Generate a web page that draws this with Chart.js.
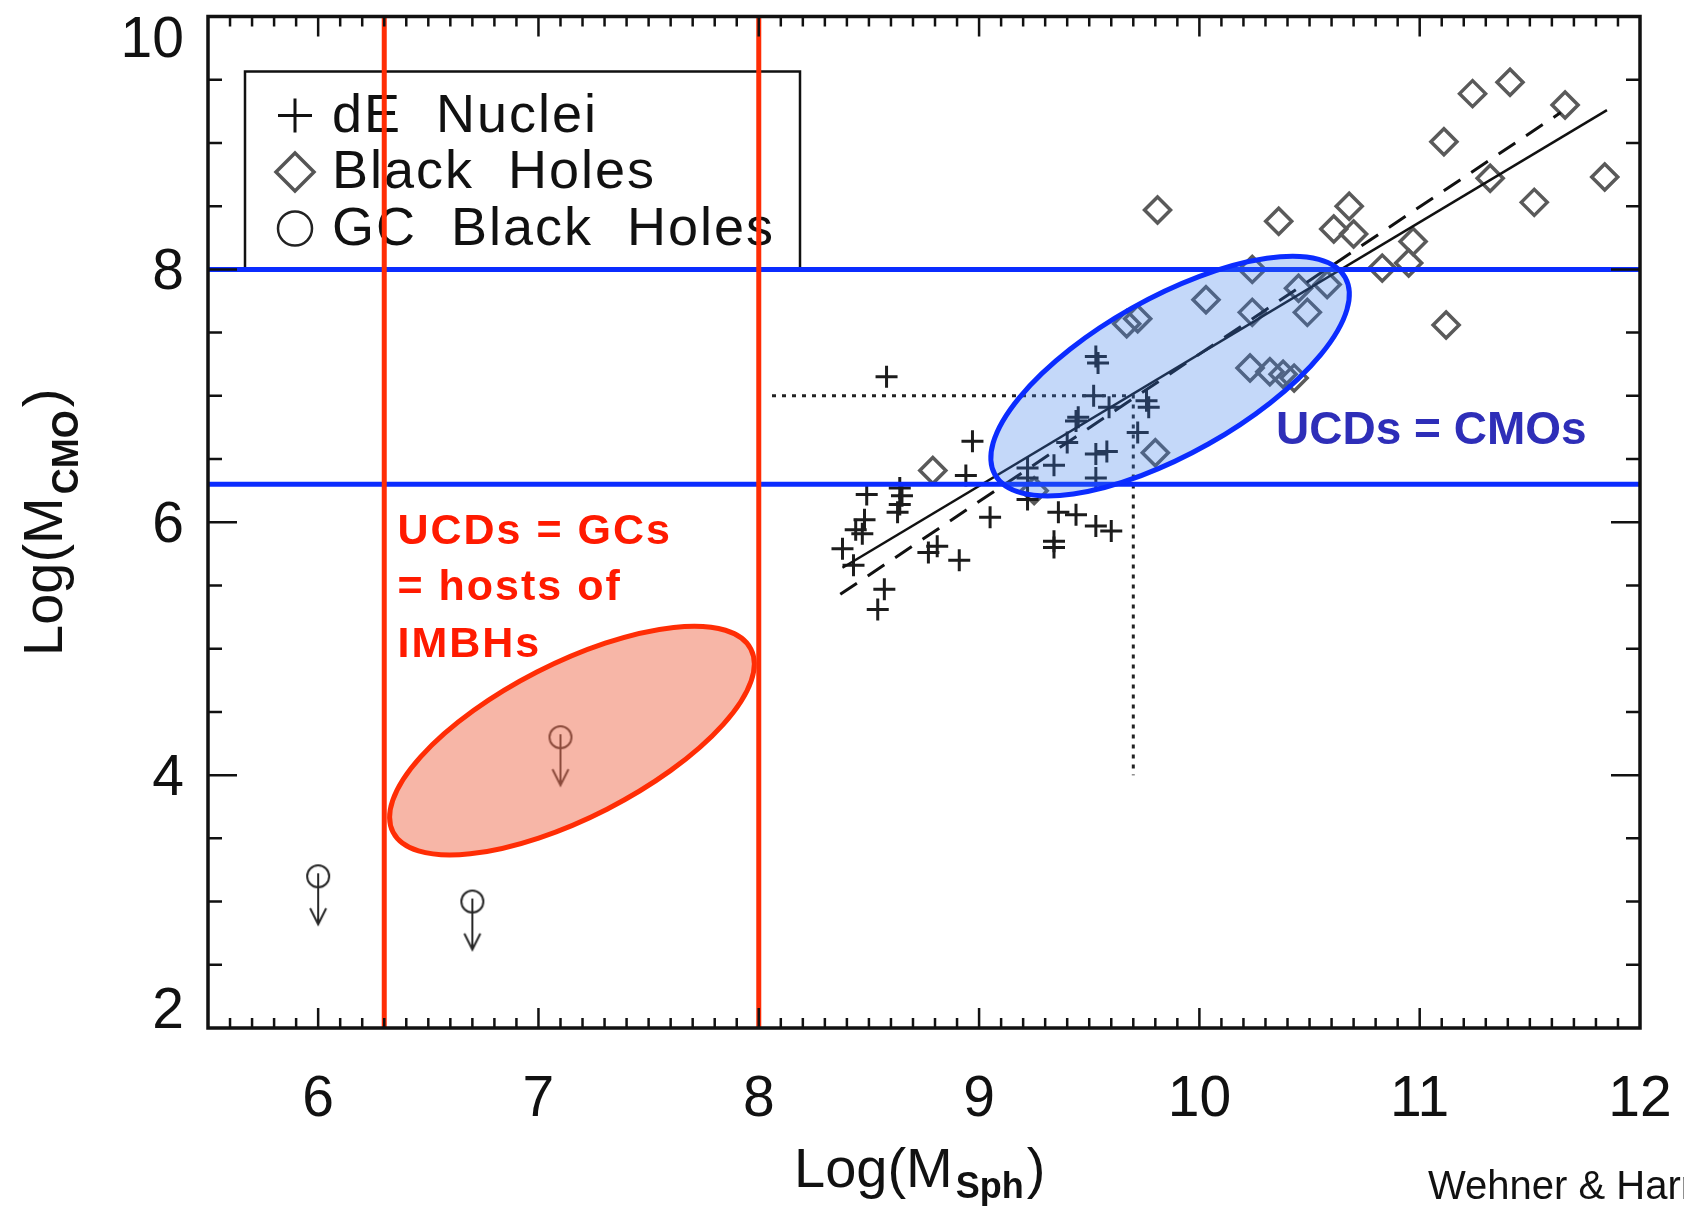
<!DOCTYPE html>
<html>
<head>
<meta charset="utf-8">
<title>CMO mass vs spheroid mass</title>
<script src="https://cdn.jsdelivr.net/npm/chart.js@4.4.0/dist/chart.umd.min.js"></script>
<style>
  html, body { margin: 0; padding: 0; background: #fff; overflow: hidden; }
  canvas { display: block; }
</style>
</head>
<body>
<canvas id="cmo" width="1684" height="1208"></canvas>
<script>
// axis ranges and tick labels
var xMin = 5.5, xMax = 12, yMin = 2, yMax = 10;
var xTicks = [6, 7, 8, 9, 10, 11, 12];
var yTicks = [2, 4, 6, 8, 10];

// dE nuclei (plus signs)
var nucleiX = [8.58, 8.97, 8.94, 8.49, 8.64, 8.65, 8.64, 8.63, 8.48, 8.44, 8.47, 8.38, 8.43, 8.57,
               8.54, 8.77, 8.81, 8.91, 9.05, 9.22, 9.36, 9.44, 9.34, 9.34, 9.53, 9.60, 9.22, 9.22,
               9.34, 9.40, 9.53, 9.58, 9.44, 9.52, 9.53, 9.54, 9.45, 9.59, 9.76, 9.77, 9.72, 9.53];
var nucleiY = [7.15, 6.64, 6.37, 6.22, 6.27, 6.21, 6.14, 6.08, 6.02, 5.94, 5.91, 5.79, 5.66, 5.47,
               5.31, 5.76, 5.81, 5.70, 6.04, 6.18, 6.08, 6.06, 5.85, 5.80, 5.97, 5.93, 6.43, 6.35,
               6.45, 6.63, 6.54, 6.56, 6.80, 7.00, 7.31, 7.26, 6.83, 6.91, 6.96, 6.91, 6.71, 6.35];

// black holes (diamonds)
var bhX = [8.79, 9.25, 9.67, 9.72, 9.80, 9.81, 10.03, 10.23, 10.24, 10.24, 10.32, 10.36, 10.38, 10.43,
           10.45, 10.49, 10.58, 10.61, 10.68, 10.70, 10.83, 10.95, 10.97, 11.11, 11.12, 11.24, 11.32,
           11.41, 11.52, 11.66, 11.84];
var bhY = [6.41, 6.25, 7.57, 7.61, 6.55, 8.47, 7.76, 7.22, 8.00, 7.66, 7.19, 8.38, 7.17, 7.14,
           7.85, 7.66, 7.88, 8.32, 8.50, 8.28, 8.01, 8.05, 8.22, 9.01, 7.56, 9.39, 8.72,
           9.48, 8.53, 9.30, 8.73];

// globular cluster black holes (upper limits)
var gcX = [6.0, 6.7, 7.1];
var gcY = [3.2, 3.0, 4.3];

// fits
var fitSolidX = [8.38, 11.85];
var fitSolidY = [5.64, 9.26];
var fitDashX = [8.37, 11.64];
var fitDashY = [5.43, 9.24];

// dotted guide
var guideX = [8.06, 9.7, 9.7];
var guideY = [7.0, 7.0, 4.0];

// highlighted limits
var redLimitsX = [6.3, 8.0];
var blueLimitsY = [6.3, 8.0];

var legendLabels = ['dE  Nuclei', 'Black  Holes', 'GC  Black  Holes'];

function pts(xs, ys) {
  return xs.map(function (v, i) { return { x: v, y: ys[i] }; });
}

function gcMarker() {
  var r = 11, len = 48, w = 32, h = 2 * (len + 4);
  var c = document.createElement('canvas');
  c.width = w; c.height = h;
  var g = c.getContext('2d');
  var cx = w / 2, cy = h / 2;
  g.strokeStyle = '#262626';
  g.lineWidth = 2;
  g.beginPath(); g.arc(cx, cy, r, 0, 2 * Math.PI); g.stroke();
  g.beginPath();
  g.moveTo(cx, cy - 3); g.lineTo(cx, cy + len);
  g.moveTo(cx - 8, cy + len - 16); g.lineTo(cx, cy + len); g.lineTo(cx + 8, cy + len - 16);
  g.stroke();
  return c;
}

var lineSets = [];
redLimitsX.forEach(function (v) {
  lineSets.push({ data: [{ x: v, y: yMin }, { x: v, y: yMax }], showLine: true, pointRadius: 0,
    borderColor: '#ff2d05', borderWidth: 5 });
});
blueLimitsY.forEach(function (v) {
  lineSets.push({ data: [{ x: xMin, y: v }, { x: xMax, y: v }], showLine: true, pointRadius: 0,
    borderColor: '#0b2cff', borderWidth: 5 });
});

var datasets = lineSets.concat([
  { label: 'guide', data: pts(guideX, guideY), showLine: true, pointRadius: 0,
    borderColor: '#222', borderWidth: 3, borderDash: [4, 6] },
  { label: 'fit', data: pts(fitSolidX, fitSolidY), showLine: true, pointRadius: 0,
    borderColor: '#111', borderWidth: 2.5 },
  { label: 'fit2', data: pts(fitDashX, fitDashY), showLine: true, pointRadius: 0,
    borderColor: '#111', borderWidth: 3, borderDash: [20, 13] },
  { label: 'dE Nuclei', data: pts(nucleiX, nucleiY), pointStyle: 'cross', pointRadius: 11,
    pointBorderWidth: 3, borderColor: '#1c1c1c', backgroundColor: '#1c1c1c' },
  { label: 'Black Holes', data: pts(bhX, bhY), pointStyle: 'rectRot', pointRadius: 13,
    pointBorderWidth: 3.5, borderColor: '#5a5a5a', backgroundColor: 'rgba(0,0,0,0)' },
  { label: 'GC Black Holes', data: pts(gcX, gcY), pointStyle: gcMarker(), pointRadius: 5 }
]);

// shaded zones (centre in data units, radii in px)
var zones = [
  { cx: 7.152, cy: 4.273, rx: 201, ry: 77, rot: -27.1, fill: 'rgba(240, 110, 80, 0.5)', stroke: '#ff2d05' },
  { cx: 9.867, cy: 7.156, rx: 201, ry: 78, rot: -29.4, fill: 'rgba(60, 125, 235, 0.3)', stroke: '#0b2cff' }
];

var legendPlugin = {
  id: 'legendBox',
  beforeDatasetsDraw: function (chart) {
    var ctx = chart.ctx, a = chart.chartArea;
    var bx = a.left + 37, by = a.top + 55;
    ctx.save();
    ctx.strokeStyle = '#111';
    ctx.lineWidth = 2.5;
    ctx.strokeRect(bx, by, 555, 198);
    ctx.font = '54px "Liberation Sans", Arial, sans-serif';
    ctx.letterSpacing = '2px';
    ctx.fillStyle = '#111';
    legendLabels.forEach(function (lab, i) {
      var mx = bx + 50, my = by + 44 + i * 56.5;
      ctx.beginPath();
      if (i === 0) {
        ctx.lineWidth = 3; ctx.strokeStyle = '#111';
        ctx.moveTo(mx - 17, my); ctx.lineTo(mx + 17, my);
        ctx.moveTo(mx, my - 17); ctx.lineTo(mx, my + 17);
      } else if (i === 1) {
        ctx.lineWidth = 3.5; ctx.strokeStyle = '#555';
        ctx.moveTo(mx - 19, my); ctx.lineTo(mx, my - 19); ctx.lineTo(mx + 19, my); ctx.lineTo(mx, my + 19);
        ctx.closePath();
      } else {
        ctx.lineWidth = 2.5; ctx.strokeStyle = '#222';
        ctx.arc(mx, my, 17, 0, 2 * Math.PI);
      }
      ctx.stroke();
      ctx.fillText(lab, bx + 87, my + 16);
    });
    ctx.restore();
  }
};

var zonePlugin = {
  id: 'zones',
  afterDatasetsDraw: function (chart) {
    var ctx = chart.ctx, x = chart.scales.x, y = chart.scales.y;
    zones.forEach(function (z) {
      ctx.save();
      ctx.beginPath();
      ctx.ellipse(x.getPixelForValue(z.cx), y.getPixelForValue(z.cy), z.rx, z.ry,
        z.rot * Math.PI / 180, 0, 2 * Math.PI);
      ctx.fillStyle = z.fill;
      ctx.fill();
      ctx.lineWidth = 5;
      ctx.strokeStyle = z.stroke;
      ctx.stroke();
      ctx.restore();
    });
  }
};

var framePlugin = {
  id: 'frame',
  afterDraw: function (chart) {
    var ctx = chart.ctx, a = chart.chartArea, x = chart.scales.x, y = chart.scales.y;
    var i, px, py, len;
    ctx.save();
    ctx.strokeStyle = '#111';
    ctx.lineWidth = 2.5;
    ctx.beginPath();
    for (i = Math.round(xMin * 10) + 1; i < Math.round(xMax * 10); i++) {
      px = x.getPixelForValue(i / 10);
      len = (i % 10 === 0) ? 20 : 10;
      ctx.moveTo(px, a.bottom); ctx.lineTo(px, a.bottom - len);
      ctx.moveTo(px, a.top); ctx.lineTo(px, a.top + len);
    }
    for (i = yMin * 2 + 1; i < yMax * 2; i++) {
      py = y.getPixelForValue(i / 2);
      len = (i % 4 === 0) ? 29 : 14;
      ctx.moveTo(a.left, py); ctx.lineTo(a.left + len, py);
      ctx.moveTo(a.right, py); ctx.lineTo(a.right - len, py);
    }
    ctx.stroke();
    ctx.lineWidth = 3.5;
    ctx.strokeRect(a.left, a.top, a.right - a.left, a.bottom - a.top);

    // y tick labels (end labels kept inside the axis span)
    ctx.fillStyle = '#111';
    ctx.font = '57px "Liberation Sans", Arial, sans-serif';
    ctx.textAlign = 'right';
    ctx.textBaseline = 'alphabetic';
    yTicks.forEach(function (v) {
      var p = Math.min(Math.max(y.getPixelForValue(v), a.top + 20), a.bottom - 20);
      ctx.fillText(String(v), a.left - 24, p + 20);
    });

    // axis titles
    ctx.textAlign = 'left';
    var big = '56px "Liberation Sans", Arial, sans-serif';
    var sub = 'bold 36px "Liberation Sans", Arial, sans-serif';
    var tx = 794, tb = a.bottom + 159;
    ctx.font = big; ctx.fillText('Log(M', tx, tb); tx += ctx.measureText('Log(M').width + 3;
    ctx.font = sub; ctx.fillText('Sph', tx, tb + 11); tx += ctx.measureText('Sph').width + 3;
    ctx.font = big; ctx.fillText(')', tx, tb);

    ctx.save();
    ctx.translate(62, 656);
    ctx.rotate(-Math.PI / 2);
    var ty = 0;
    ctx.font = big; ctx.fillText('Log(M', ty, 0); ty += ctx.measureText('Log(M').width + 3;
    ctx.font = sub; ctx.fillText('CMO', ty, 16); ty += ctx.measureText('CMO').width + 3;
    ctx.font = big; ctx.fillText(')', ty, 0);
    ctx.restore();

    // annotations
    ctx.font = 'bold 43px "Liberation Sans", Arial, sans-serif';
    ctx.letterSpacing = '2px';
    ctx.fillStyle = '#ff1a00';
    var rx = x.getPixelForValue(6.36), ry = y.getPixelForValue(5.83);
    ['UCDs = GCs', '= hosts of', 'IMBHs'].forEach(function (t, k) {
      ctx.fillText(t, rx, ry + k * 56.5);
    });
    ctx.letterSpacing = '0px';
    ctx.font = 'bold 46px "Liberation Sans", Arial, sans-serif';
    ctx.fillStyle = '#2e2eb8';
    ctx.fillText('UCDs = CMOs', x.getPixelForValue(10.348), y.getPixelForValue(6.62));

    ctx.font = '40px "Liberation Sans", Arial, sans-serif';
    ctx.fillStyle = '#111';
    ctx.fillText('Wehner & Harris 2006', 1428, a.bottom + 171);
    ctx.restore();
  }
};

Chart.defaults.font.family = '"Liberation Sans", Arial, sans-serif';

new Chart(document.getElementById('cmo'), {
  type: 'scatter',
  data: { datasets: datasets },
  options: {
    responsive: false,
    animation: false,
    events: [],
    devicePixelRatio: 1,
    layout: { padding: { top: 15, right: 44, left: 0, bottom: 0 } },
    plugins: { legend: { display: false }, tooltip: { enabled: false } },
    scales: {
      x: {
        type: 'linear', min: xMin, max: xMax,
        grid: { display: false, drawTicks: false },
        border: { display: false },
        afterBuildTicks: function (s) { s.ticks = xTicks.map(function (v) { return { value: v }; }); },
        afterFit: function (s) { s.height = 180; s.paddingLeft = 0; s.paddingRight = 0; },
        ticks: { color: '#111', padding: 38, maxRotation: 0, font: { size: 57 } }
      },
      y: {
        type: 'linear', min: yMin, max: yMax,
        grid: { display: false, drawTicks: false },
        border: { display: false },
        ticks: { display: false },
        afterFit: function (s) { s.width = 208; s.paddingTop = 0; s.paddingBottom = 0; }
      }
    }
  },
  plugins: [legendPlugin, zonePlugin, framePlugin]
});
</script>
</body>
</html>
